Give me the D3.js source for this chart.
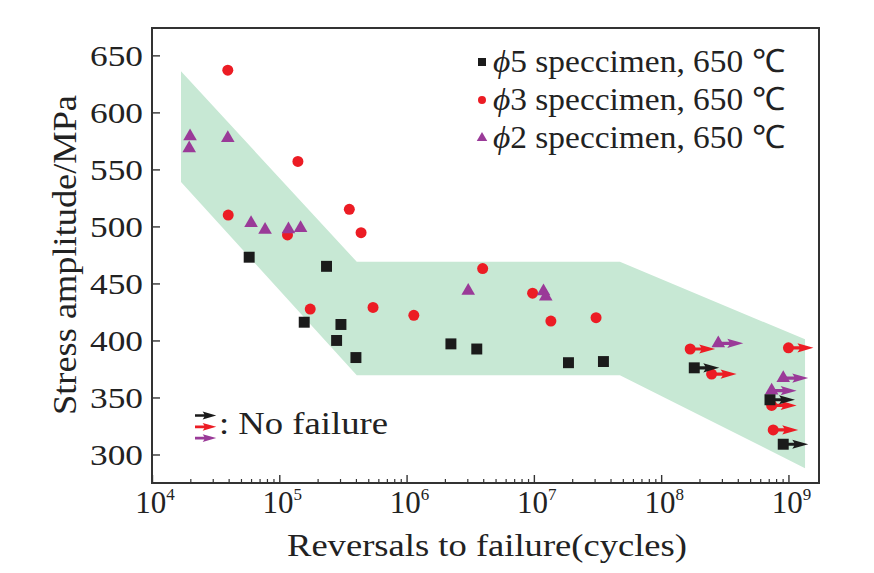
<!DOCTYPE html>
<html>
<head>
<meta charset="utf-8">
<script src="https://cdn.jsdelivr.net/npm/d3@7"></script>
<style>
  body { margin: 0; background: #fff; }
  text { font-family: "Times New Roman", "Liberation Serif", Tinos, serif; fill: #222; }
</style>
</head>
<body>
<script>
// cycles / stress amplitude (MPa)
var phi5Cycles = [5.8e4, 2.35e5, 1.57e5, 3.05e5, 2.82e5, 4.0e5, 2.23e6, 3.56e6, 1.87e7, 3.52e7];
var phi5Stress = [473, 465, 416, 414, 400, 385, 397, 392.5, 380.5, 381.5];
var phi5RunCycles = [1.82e8, 7.16e8, 9.1e8];
var phi5RunStress = [376, 348, 309];

var phi3Cycles = [3.94e4, 1.40e5, 3.97e4, 1.16e5, 3.55e5, 4.39e5, 1.75e5, 5.45e5, 1.14e6, 3.96e6, 9.77e6, 1.36e7, 3.08e7];
var phi3Stress = [637, 557, 510, 492.5, 515, 494.5, 427.5, 429, 422, 463, 441.5, 417, 420];
var phi3RunCycles = [1.69e8, 2.49e8, 1.0e9, 7.38e8, 7.59e8];
var phi3RunStress = [392.5, 370.5, 393.5, 343, 321.5];

var phi2Cycles = [1.99e4, 1.96e4, 3.94e4, 6.0e4, 7.73e4, 1.18e5, 1.47e5, 3.05e6, 1.19e7, 1.24e7];
var phi2Stress = [579, 568.5, 577.5, 503, 497, 497.5, 498.5, 443.5, 443, 438.5];
var phi2RunCycles = [2.81e8, 9.1e8, 7.38e8];
var phi2RunStress = [397.5, 367, 356];

// scatter band outline
var bandCycles = [1.69e4, 4.06e5, 4.74e7, 1.35e9, 1.35e9, 4.74e7, 4.06e5, 1.69e4];
var bandStress = [636, 469, 469, 401, 288, 369.5, 369.5, 539];

var yTicks = [300, 350, 400, 450, 500, 550, 600, 650];
var xExponents = [4, 5, 6, 7, 8, 9];
var legendLabels = ["5 speccimen, 650 \u2103", "3 speccimen, 650 \u2103", "2 speccimen, 650 \u2103"];

var W = 874, H = 573;
var mLeft = 152, mRight = 819, mTop = 28, mBottom = 483;

var svg = d3.select("body").append("svg")
    .attr("width", W).attr("height", H);

var x = d3.scaleLog().domain([1e4, Math.pow(10, 9.24)]).range([mLeft, mRight]);
var y = d3.scaleLinear().domain([275, 674]).range([mBottom, mTop]);

var red = "#ec1c24", purple = "#9a3a98", black = "#1b1b1b";

/* band */
var band = d3.range(bandCycles.length).map(function(i) { return [x(bandCycles[i]), y(bandStress[i])]; });
svg.append("path")
    .attr("d", d3.line()(band) + "Z")
    .attr("fill", "#c7e8d4");

/* axes */
var minor = [];
xExponents.forEach(function(e) {
  for (var k = 2; k <= 9; k++) {
    var v = k * Math.pow(10, e);
    if (v < x.domain()[1]) minor.push(v);
  }
});
var majors = xExponents.map(function(e) { return Math.pow(10, e); });

svg.append("g")
    .attr("transform", "translate(0," + mBottom + ")")
    .call(d3.axisBottom(x).tickValues(minor).tickSize(-4).tickFormat(""))
    .call(function(g) { g.select(".domain").remove(); g.selectAll("line").attr("stroke", "#333").attr("stroke-width", 1.2); });

svg.append("g")
    .attr("transform", "translate(0," + mBottom + ")")
    .call(d3.axisBottom(x).tickValues(majors).tickSize(-8).tickFormat(""))
    .call(function(g) { g.select(".domain").remove(); g.selectAll("line").attr("stroke", "#333").attr("stroke-width", 1.4); });

svg.append("g")
    .attr("transform", "translate(" + mLeft + ",0)")
    .call(d3.axisLeft(y).tickValues(yTicks).tickSize(-8).tickFormat(""))
    .call(function(g) { g.select(".domain").remove(); g.selectAll("line").attr("stroke", "#333").attr("stroke-width", 1.4); });

svg.append("rect")
    .attr("x", mLeft).attr("y", mTop)
    .attr("width", mRight - mLeft).attr("height", mBottom - mTop)
    .attr("fill", "none").attr("stroke", "#333").attr("stroke-width", 2);

/* tick labels */
svg.selectAll(".ylab").data(yTicks).enter().append("text")
    .attr("x", 143).attr("y", function(d) { return y(d) + 10.5; })
    .attr("text-anchor", "end")
    .attr("font-size", 30)
    .attr("textLength", 53).attr("lengthAdjust", "spacingAndGlyphs")
    .text(function(d) { return d; });

var xl = svg.selectAll(".xlab").data(xExponents).enter().append("text")
    .attr("x", function(d) { return x(Math.pow(10, d)) + 3; })
    .attr("y", 513)
    .attr("text-anchor", "middle")
    .attr("font-size", 31);
xl.append("tspan").text("10");
xl.append("tspan").attr("font-size", 17).attr("dy", -13).text(function(d) { return d; });

/* axis titles */
svg.append("text")
    .attr("x", 487).attr("y", 556)
    .attr("text-anchor", "middle")
    .attr("font-size", 32)
    .attr("textLength", 400).attr("lengthAdjust", "spacingAndGlyphs")
    .text("Reversals to failure(cycles)");

svg.append("text")
    .attr("transform", "translate(76,255) rotate(-90)")
    .attr("text-anchor", "middle")
    .attr("font-size", 33)
    .attr("textLength", 320).attr("lengthAdjust", "spacingAndGlyphs")
    .text("Stress amplitude/MPa");

/* markers */
var sym = {
  square: d3.symbol().type(d3.symbolSquare).size(120),
  circle: d3.symbol().type(d3.symbolCircle).size(95),
  triangle: d3.symbol().type(d3.symbolTriangle).size(80)
};
var arrowPath = "M0,-1.6L11,-1.6L9,-4.6L25,0L9,4.6L11,1.6L0,1.6Z";

function series(cycles, stress, runC, runS, color, shape) {
  var g = svg.append("g");
  var pts = d3.range(cycles.length).map(function(i) { return [cycles[i], stress[i]]; });
  var runs = d3.range(runC.length).map(function(i) { return [runC[i], runS[i]]; });
  g.selectAll(".arr").data(runs).enter().append("path")
      .attr("transform", function(d) { return "translate(" + x(d[0]) + "," + y(d[1]) + ")"; })
      .attr("d", arrowPath)
      .attr("fill", color);
  g.selectAll(".pt").data(pts.concat(runs)).enter().append("path")
      .attr("transform", function(d) { return "translate(" + x(d[0]) + "," + y(d[1]) + ")"; })
      .attr("d", sym[shape]())
      .attr("fill", color);
}

series(phi3Cycles, phi3Stress, phi3RunCycles, phi3RunStress, red, "circle");
series(phi2Cycles, phi2Stress, phi2RunCycles, phi2RunStress, purple, "triangle");
series(phi5Cycles, phi5Stress, phi5RunCycles, phi5RunStress, black, "square");

/* legend */
var legColors = [black, red, purple];
var legShapes = ["square", "circle", "triangle"];
var legSizes = { square: 64, circle: 50, triangle: 48 };
var lg = svg.append("g");
legendLabels.forEach(function(t, i) {
  var cy = 62 + i * 38;
  lg.append("path")
      .attr("transform", "translate(482," + cy + ")")
      .attr("d", d3.symbol().type(sym[legShapes[i]].type()).size(legSizes[legShapes[i]])())
      .attr("fill", legColors[i]);
  var tx = lg.append("text")
      .attr("x", 493).attr("y", cy + 10)
      .attr("font-size", 32)
      .attr("textLength", 292).attr("lengthAdjust", "spacingAndGlyphs");
  tx.append("tspan").attr("font-style", "italic").text("\u03d5");
  tx.append("tspan").text(t);
});

/* no failure key */
[black, red, purple].forEach(function(c, i) {
  svg.append("path")
      .attr("transform", "translate(195," + (415.5 + i * 11.3) + ") scale(0.85)")
      .attr("d", arrowPath)
      .attr("fill", c);
});
svg.append("text")
    .attr("x", 219).attr("y", 434)
    .attr("font-size", 31)
    .attr("textLength", 169).attr("lengthAdjust", "spacingAndGlyphs")
    .text(": No failure");
</script>
</body>
</html>
